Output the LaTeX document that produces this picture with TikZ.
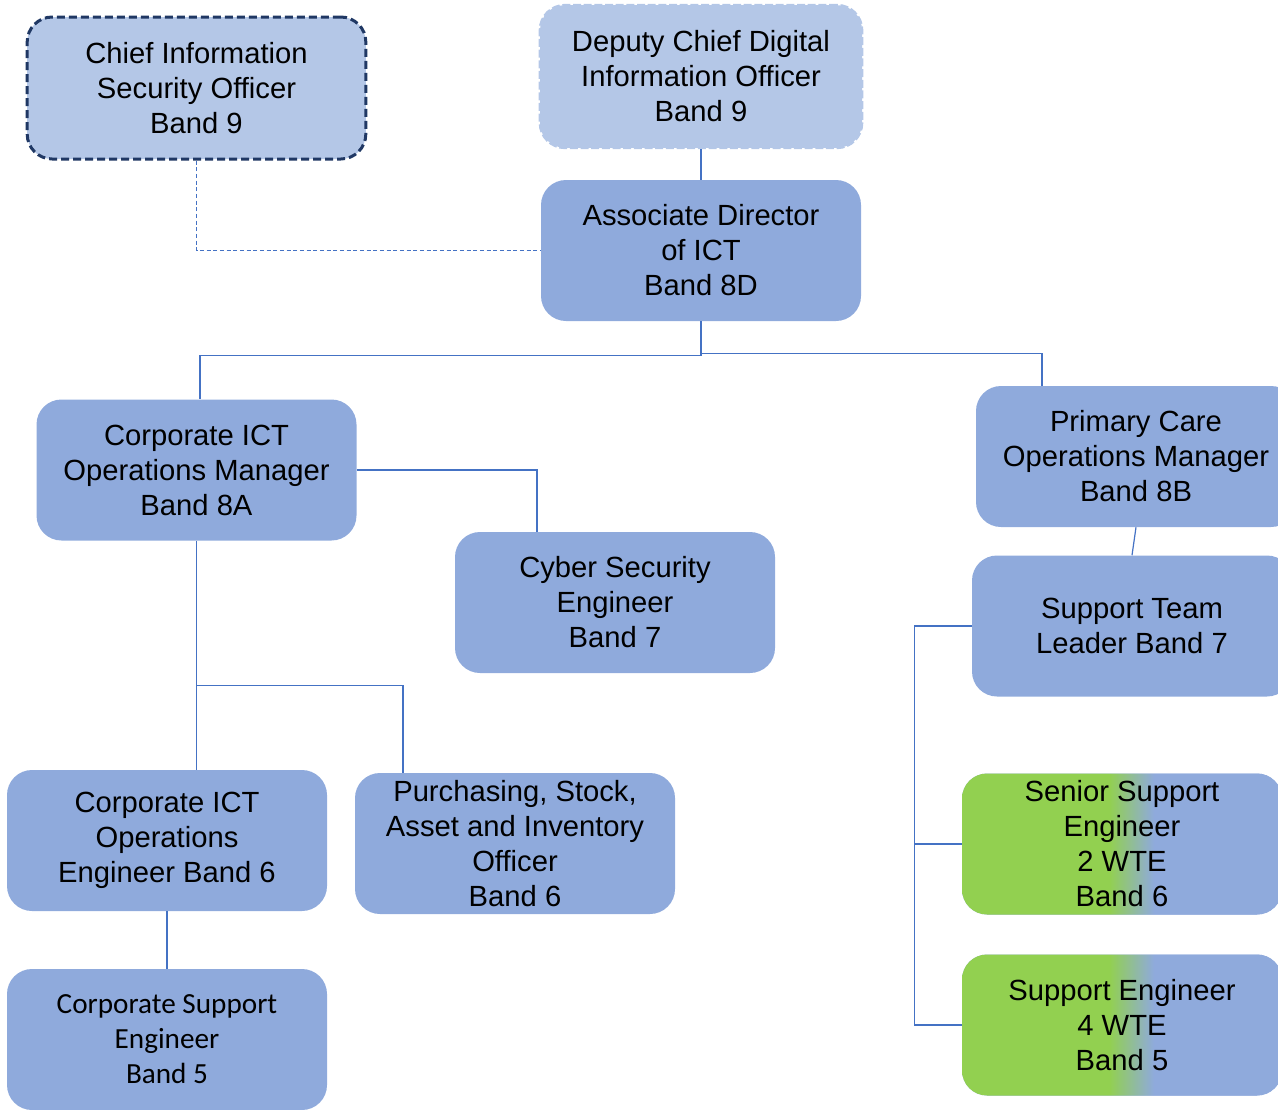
\documentclass[tikz,border=0pt]{standalone}
\usepackage{fontspec}
\setmainfont{Liberation Sans}
\newfontfamily\calibrifont{Carlito}
\usetikzlibrary{calc}
\definecolor{boxblue}{HTML}{8FAADC}
\definecolor{boxlight}{HTML}{B4C7E7}
\definecolor{linkblue}{HTML}{4472C4}
\definecolor{darknavy}{HTML}{203864}
\definecolor{wtegreen}{HTML}{92D050}
\pgfdeclarehorizontalshading{greenblue}{100bp}{color(0bp)=(wtegreen); color(48bp)=(wtegreen); color(55bp)=(boxblue); color(100bp)=(boxblue)}
\tikzset{
  role/.style={rounded corners=18.75pt, fill=boxblue, minimum width=240pt, minimum height=105.75pt, inner sep=0pt, align=center, font=\fontsize{21.9}{26.25}\selectfont},
  rolelight/.style={role, fill=boxlight},
  rolewte/.style={role, shading=greenblue},
  link/.style={draw=linkblue, line width=0.9pt}
}

\begin{document}
\begin{tikzpicture}[x=0.75pt,y=-0.75pt]
		\useasboundingbox (0,0) rectangle (1278,1110);
		\clip (0,0) rectangle (1278,1110);
		\node[rolelight, draw=darknavy, line width=2.25pt, dash pattern=on 6pt off 3pt, minimum width=254pt, minimum height=106.5pt] (ciso) at (196.5,88) {Chief Information\\Security Officer\\Band 9};
		\node[rolelight, draw=boxlight, line width=2pt, dash pattern=on 6pt off 2pt, minimum width=241.5pt, minimum height=107pt] (dcdio) at (701,76.5) {Deputy Chief Digital\\Information Officer\\Band 9};
		\node[role] (adict) at (701,250.5) {Associate Director\\of ICT\\Band 8D};
		\node[role] (corpops) at (196.5,470) {Corporate ICT\\Operations Manager\\Band 8A};
		\node[role] (cyber) at (615,602.5) {Cyber Security\\Engineer\\Band 7};
		\node[role] (corpeng) at (167,840.5) {Corporate ICT\\Operations\\Engineer Band 6};
		\node[role] (purch) at (515,843.5) {Purchasing, Stock,\\Asset and Inventory\\Officer\\Band 6};
		\node[role, font=\calibrifont\fontsize{21.9}{26.25}\selectfont] (corpsupp) at (167,1039.5) {Corporate Support\\Engineer\\Band 5};
		\node[role] (pcare) at (1136,456.5) {Primary Care\\Operations Manager\\Band 8B};
		\node[role] (stl) at (1132,626) {Support Team\\Leader Band 7};
		\node[rolewte] (senior) at (1122,844) {Senior Support\\Engineer\\2 WTE\\Band 6};
		\node[rolewte] (supeng) at (1122,1025) {Support Engineer\\4 WTE\\Band 5};
		\draw[link, dash pattern=on 3pt off 2pt] (ciso.south) |- (adict.west);
		\draw[link] (dcdio.south) -- (adict.north);
		\draw[link] (adict.south) -- ++(0,34) -| ([xshift=2.6pt]corpops.north);
		\draw[link] (adict.south) -- ++(0,32) -| ([xshift=-70.5pt]pcare.north);
		\draw[link] (corpops.east) -| ([xshift=-58.5pt]cyber.north);
		\draw[link] (corpops.south) -- (corpops.south |- corpeng.north);
		\coordinate (split) at ($(corpops.south)!0.633!(corpops.south |- corpeng.north)$);
		\draw[link] (split) -| ([xshift=-84pt]purch.north);
		\draw[link] (corpeng.south) -- (corpsupp.north);
		\draw[link] (pcare.south) -- (stl.north);
		\draw[link] (stl.west) -- ++(-57,0) |- (supeng.west);
		\draw[link] (senior.west) -- ++(-47,0);
\end{tikzpicture}
\end{document}
